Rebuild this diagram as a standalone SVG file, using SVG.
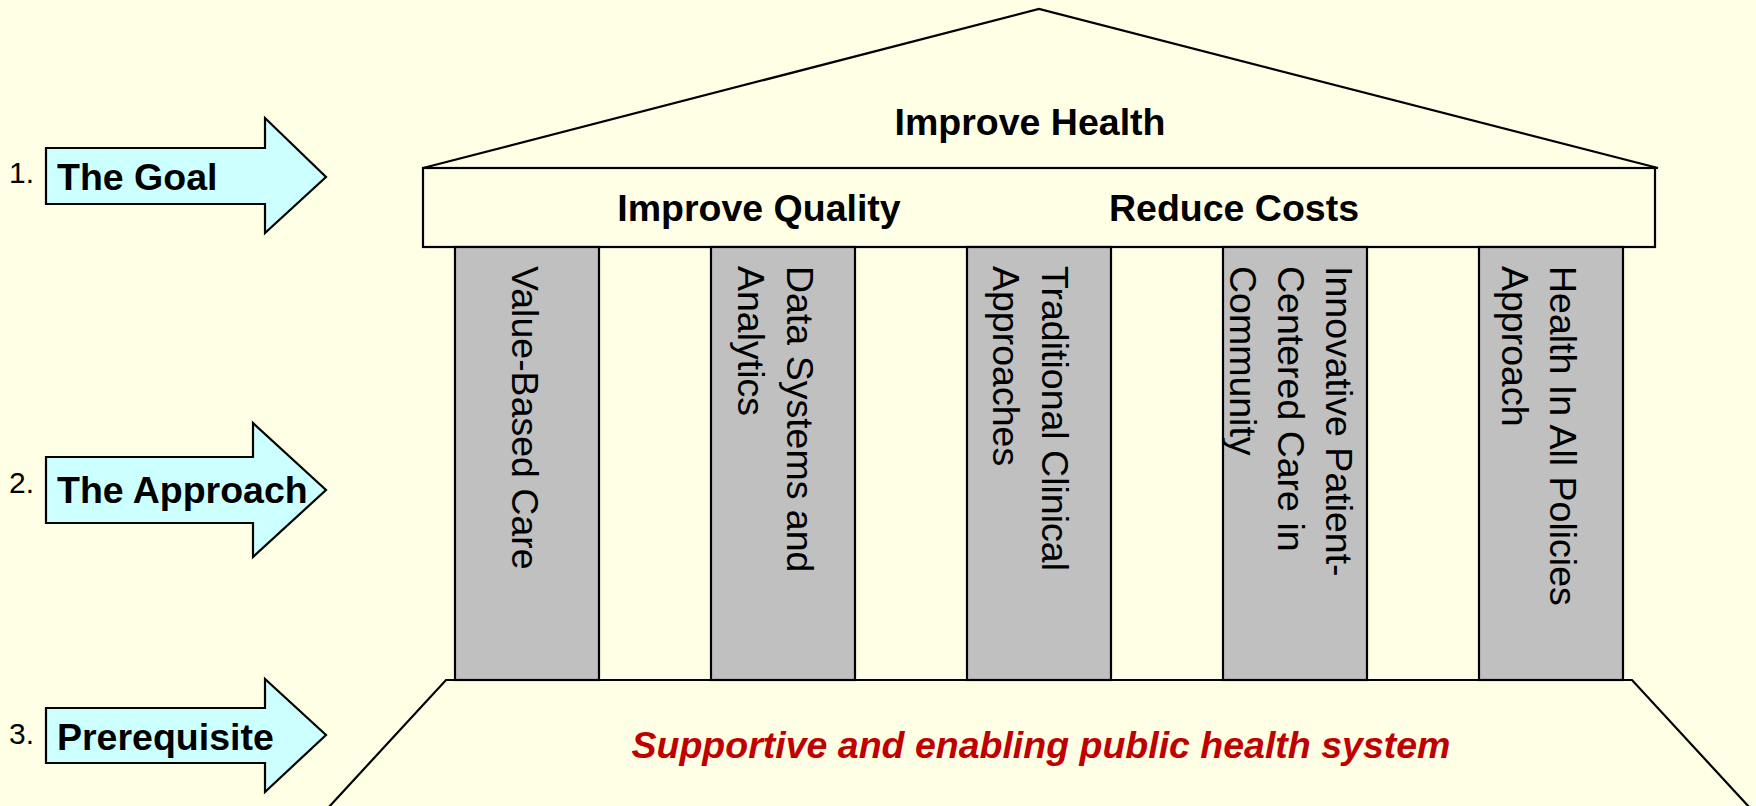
<svg xmlns="http://www.w3.org/2000/svg" width="1756" height="806" viewBox="0 0 1756 806">
  <style>
    .bg { fill: #FFFFE5; }
    .outline { fill: #FFFFE5; stroke: #000; stroke-width: 2.2; stroke-linejoin: miter; }
    .pillar { fill: #C0C0C0; stroke: #000; stroke-width: 2.2; }
    .arrow { fill: #CCFFFF; stroke: #000; stroke-width: 2.2; stroke-linejoin: miter; }
    .bold { font-family: "Liberation Sans", Arial, sans-serif; font-weight: bold; font-size: 37.5px; fill: #000; }
    .num { font-family: "Liberation Sans", Arial, sans-serif; font-size: 30px; fill: #000; }
    .col { font-family: "Liberation Sans", Arial, sans-serif; font-size: 37.5px; fill: #000; }
    .base-text { font-family: "Liberation Sans", Arial, sans-serif; font-weight: bold; font-style: italic; font-size: 37.5px; fill: #C00000; }
  </style>

  <rect class="bg" x="0" y="0" width="1756" height="806"/>

  <!-- Step arrows on the left -->
  <g id="step-goal">
    <polygon class="arrow" points="46,148 265,148 265,118 326,177 265,233 265,204 46,204"/>
    <text class="num" x="9" y="183">1.</text>
    <text class="bold" x="57" y="190">The Goal</text>
  </g>
  <g id="step-approach">
    <polygon class="arrow" points="46,457 253,457 253,423 326,490 253,557 253,523 46,523"/>
    <text class="num" x="9" y="493">2.</text>
    <text class="bold" x="57" y="503">The Approach</text>
  </g>
  <g id="step-prerequisite">
    <polygon class="arrow" points="46,708 265,708 265,679 326,735 265,792 265,763 46,763"/>
    <text class="num" x="9" y="744">3.</text>
    <text class="bold" x="57" y="750">Prerequisite</text>
  </g>

  <!-- Roof -->
  <g id="roof">
    <polygon class="outline" points="423,168 1039,9 1658,168"/>
    <text class="bold" x="1030" y="135" text-anchor="middle">Improve Health</text>
  </g>

  <!-- Entablature -->
  <g id="entablature">
    <rect class="outline" x="423" y="168" width="1232" height="79"/>
    <text class="bold" x="759" y="221" text-anchor="middle">Improve Quality</text>
    <text class="bold" x="1234" y="221" text-anchor="middle">Reduce Costs</text>
  </g>

  <!-- Foundation -->
  <g id="foundation">
    <polygon class="outline" points="328,808 446,680 1632,680 1750,808"/>
    <text class="base-text" x="1041" y="758" text-anchor="middle">Supportive and enabling public health system</text>
  </g>

  <!-- Pillars -->
  <g id="pillar-value-based-care">
    <rect class="pillar" x="455" y="247" width="144" height="433"/>
    <text class="col" transform="translate(525,266) rotate(90)" y="13.1">Value-Based Care</text>
  </g>
  <g id="pillar-data-systems">
    <rect class="pillar" x="711" y="247" width="144" height="433"/>
    <text class="col" transform="translate(800,266) rotate(90)" y="13.1">Data Systems and</text>
    <text class="col" transform="translate(751,266) rotate(90)" y="13.1">Analytics</text>
  </g>
  <g id="pillar-traditional-clinical">
    <rect class="pillar" x="967" y="247" width="144" height="433"/>
    <text class="col" transform="translate(1055,266) rotate(90)" y="13.1">Traditional Clinical</text>
    <text class="col" transform="translate(1006,266) rotate(90)" y="13.1">Approaches</text>
  </g>
  <g id="pillar-innovative-care">
    <rect class="pillar" x="1223" y="247" width="144" height="433"/>
    <text class="col" transform="translate(1339,266) rotate(90)" y="13.1">Innovative Patient-</text>
    <text class="col" transform="translate(1291,266) rotate(90)" y="13.1">Centered Care in</text>
    <text class="col" transform="translate(1243,266) rotate(90)" y="13.1">Community</text>
  </g>
  <g id="pillar-health-in-all-policies">
    <rect class="pillar" x="1479" y="247" width="144" height="433"/>
    <text class="col" transform="translate(1563,266) rotate(90)" y="13.1">Health In All Policies</text>
    <text class="col" transform="translate(1515,266) rotate(90)" y="13.1">Approach</text>
  </g>

  <!-- no separate connectors: the step arrows are drawn as shapes above -->
  <g id="connectors"/>
</svg>
